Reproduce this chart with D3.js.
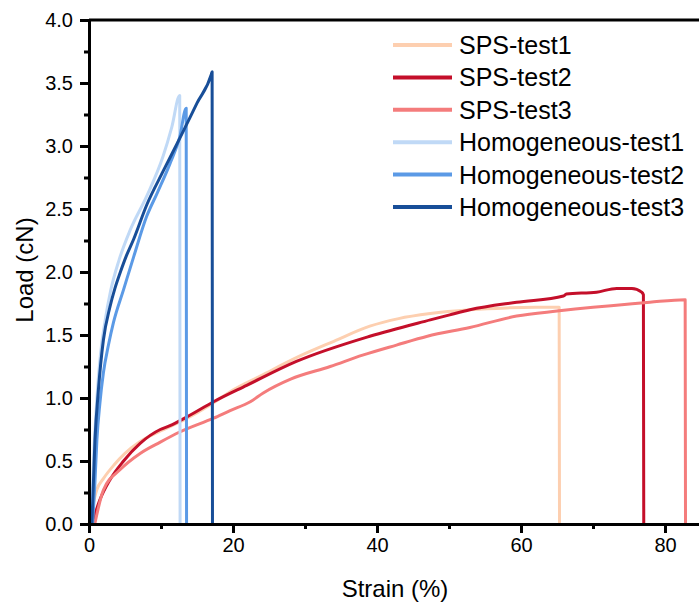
<!DOCTYPE html>
<html>
<head>
<meta charset="utf-8">
<script src="https://cdn.jsdelivr.net/npm/d3@7"></script>
<style>
  body { margin: 0; background: #fff; }
  text { font-family: "Liberation Sans", Arial, sans-serif; fill: #000; }
  .axis path, .axis line { stroke: #000; stroke-width: 3; }
</style>
</head>
<body>
<div id="chart"></div>
<script>
// series names + colours (legend order = draw order)
var seriesNames = ["SPS-test1", "SPS-test2", "SPS-test3", "Homogeneous-test1", "Homogeneous-test2", "Homogeneous-test3"];
var seriesColors = ["#fdcfb0", "#c40f2a", "#f47c7c", "#c0d9f6", "#5b9ae6", "#184e98"];

// strain (%) / load (cN)
var sps1Strain = [0, 0.5, 1.07, 2, 3.5, 5, 7, 10, 13, 17, 19.6, 24, 28.8, 34, 39, 43, 47.4, 52.9, 58, 62, 65.0, 65.3, 65.35];
var sps1Load   = [0, 0.14, 0.27, 0.36, 0.47, 0.56, 0.65, 0.74, 0.82, 0.95, 1.05, 1.18, 1.32, 1.45, 1.57, 1.63, 1.67, 1.70, 1.715, 1.72, 1.72, 1.72, 0];

var sps2Strain = [0.4, 1.5, 2.9, 4.8, 7.1, 9.9, 11.25, 13.6, 17.3, 21.9, 28.8, 39, 47.4, 50.1, 52.9, 59.4, 65.9, 66.3, 70.5, 73.3, 75.4, 76.75, 77.0, 77.05];
var sps2Load   = [0, 0.19, 0.35, 0.50, 0.64, 0.75, 0.78, 0.85, 0.97, 1.10, 1.29, 1.49, 1.62, 1.66, 1.70, 1.76, 1.81, 1.825, 1.84, 1.87, 1.87, 1.84, 1.82, 0];

var sps3Strain = [0.8, 2, 4.3, 7.1, 9.9, 12.6, 17.3, 19.6, 22.4, 24.2, 28, 33.5, 38, 42.7, 47, 52.9, 59.4, 65, 70, 74, 77.9, 82.8, 82.85];
var sps3Load   = [0, 0.27, 0.43, 0.56, 0.65, 0.73, 0.84, 0.90, 0.97, 1.04, 1.15, 1.25, 1.34, 1.42, 1.49, 1.56, 1.65, 1.69, 1.72, 1.74, 1.76, 1.78, 0];

var hom1Strain = [0.3, 0.7, 1.1, 1.6, 2.2, 3.0, 4.2, 5.7, 8.0, 10.3, 11.5, 12.6, 12.65];
var hom1Load   = [0, 0.6, 1.0, 1.35, 1.6, 1.85, 2.1, 2.33, 2.6, 2.92, 3.15, 3.40, 0];

var hom2Strain = [0.5, 0.8, 1.1, 1.5, 2.0, 2.7, 3.4, 4.8, 6.2, 8.0, 9.5, 11.25, 12.6, 13.5, 13.55];
var hom2Load   = [0, 0.3, 0.67, 0.95, 1.2, 1.42, 1.6, 1.86, 2.12, 2.44, 2.63, 2.86, 3.07, 3.30, 0];

var hom3Strain = [0.4, 0.83, 1.3, 2.0, 2.9, 3.6, 4.3, 5.2, 6.2, 8.0, 10.3, 12.6, 15.0, 17.0, 17.1, 17.15];
var hom3Load   = [0, 0.67, 1.06, 1.46, 1.72, 1.87, 1.99, 2.13, 2.26, 2.53, 2.80, 3.06, 3.34, 3.57, 3.59, 0];

var strainSets = [sps1Strain, sps2Strain, sps3Strain, hom1Strain, hom2Strain, hom3Strain];
var loadSets = [sps1Load, sps2Load, sps3Load, hom1Load, hom2Load, hom3Load];

var xTicks = [0, 20, 40, 60, 80];
var xMinorTicks = [10, 30, 50, 70];
var yTicks = [0, 0.5, 1.0, 1.5, 2.0, 2.5, 3.0, 3.5, 4.0];
var yMinorTicks = [0.25, 0.75, 1.25, 1.75, 2.25, 2.75, 3.25, 3.75];

var svg = d3.select("#chart").append("svg").attr("width", 699).attr("height", 608),
    margin = {top: 20, left: 89},
    plotRight = 701,
    plotBottom = 524;

var x = d3.scaleLinear().domain([0, 85]).range([margin.left, plotRight]);
var y = d3.scaleLinear().domain([0, 4]).range([plotBottom, margin.top]);

var line = d3.line()
    .curve(d3.curveMonotoneX)
    .x(function(d) { return x(d[0]); })
    .y(function(d) { return y(d[1]); });

// curves
for (var i = 0; i < seriesNames.length; i++) {
    var pts = strainSets[i].map(function(s, j) { return [s, loadSets[i][j]]; });
    svg.append("path")
        .datum(pts)
        .attr("fill", "none")
        .attr("stroke", seriesColors[i])
        .attr("stroke-width", 3)
        .attr("stroke-linejoin", "round")
        .attr("d", line);
}

// top frame line
svg.append("line")
    .attr("x1", x(0)).attr("x2", plotRight)
    .attr("y1", y(4)).attr("y2", y(4))
    .attr("stroke", "#000").attr("stroke-width", 3);

// axes
var xAxis = svg.append("g")
    .attr("class", "axis")
    .attr("transform", "translate(0," + plotBottom + ")")
    .call(d3.axisBottom(x).tickValues(xTicks).tickSize(9).tickSizeOuter(0).tickPadding(5));
xAxis.selectAll("text").style("font-size", "20px");

svg.append("g")
    .attr("class", "axis")
    .attr("transform", "translate(0," + plotBottom + ")")
    .call(d3.axisBottom(x).tickValues(xMinorTicks).tickSize(5).tickSizeOuter(0).tickFormat(""))
    .select(".domain").remove();

var yAxis = svg.append("g")
    .attr("class", "axis")
    .attr("transform", "translate(" + margin.left + ",0)")
    .call(d3.axisLeft(y).tickValues(yTicks).tickSize(9).tickSizeOuter(0).tickPadding(7).tickFormat(d3.format(".1f")));
yAxis.selectAll("text").style("font-size", "20px");

svg.append("g")
    .attr("class", "axis")
    .attr("transform", "translate(" + margin.left + ",0)")
    .call(d3.axisLeft(y).tickValues(yMinorTicks).tickSize(5).tickSizeOuter(0).tickFormat(""))
    .select(".domain").remove();

// axis titles
svg.append("text")
    .attr("x", 395).attr("y", 597)
    .attr("text-anchor", "middle")
    .style("font-size", "24px")
    .text("Strain (%)");

svg.append("text")
    .attr("transform", "translate(33,270) rotate(-90)")
    .attr("text-anchor", "middle")
    .style("font-size", "24px")
    .text("Load (cN)");

// legend
var legend = svg.append("g").attr("transform", "translate(393,45)");
seriesNames.forEach(function(name, k) {
    var row = legend.append("g").attr("transform", "translate(0," + (k * 32.4) + ")");
    row.append("line")
        .attr("x1", 0).attr("x2", 59)
        .attr("y1", 0).attr("y2", 0)
        .attr("stroke", seriesColors[k])
        .attr("stroke-width", 4);
    row.append("text")
        .attr("x", 66).attr("y", 9)
        .style("font-size", "25px")
        .text(name);
});
</script>
</body>
</html>
